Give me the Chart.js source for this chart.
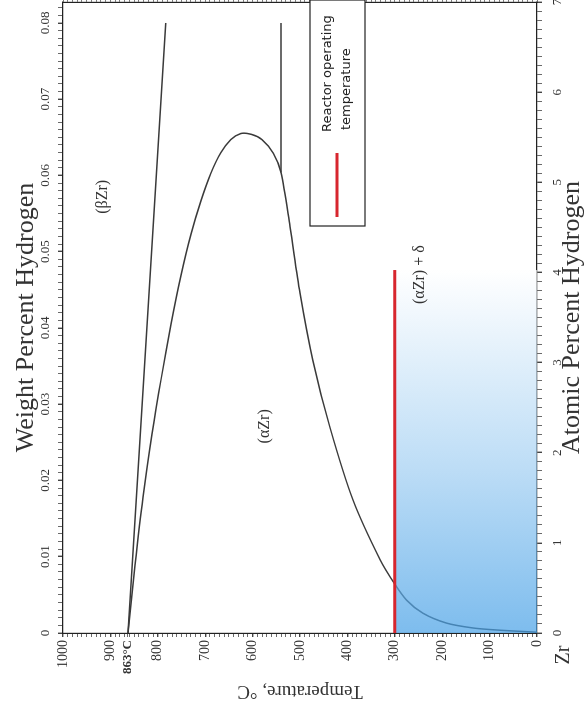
<!DOCTYPE html>
<html>
<head>
<meta charset="utf-8">
<script src="https://cdn.jsdelivr.net/npm/chart.js@4.4.1/dist/chart.umd.min.js"></script>
<style>
	html, body { margin: 0; padding: 0; background: #fff; overflow: hidden; }
	/* the diagram is drawn with temperature upright, then turned a quarter turn */
	#wrap { position: absolute; left: 0; top: 0; width: 720px; height: 588px;
		transform-origin: 0 0; transform: translate(0, 720px) rotate(-90deg); }
</style>
</head>
<body>
<div id="wrap"><canvas id="zrhChart" width="720" height="588"></canvas></div>
<script>
// (βZr) / (αZr)+(βZr) boundary
const betaWt = [0, 0.08];
const betaTemp = [863, 783];

// (αZr) boundary and terminal solid solubility
const solvusWt = [0, 0.0089, 0.0178, 0.0261, 0.0333, 0.0405, 0.0469, 0.0523, 0.0567, 0.0603, 0.0630,
	0.0647, 0.0655, 0.0654, 0.0647, 0.0629, 0.0604,
	0.0533, 0.0446, 0.0358, 0.0270, 0.0174, 0.0096, 0.0064, 0.0043, 0.0026, 0.0013, 0.00066, 0.00039, 0.0001];
const solvusTemp = [863, 848, 831, 812, 793, 772, 751, 730, 709, 688, 667,
	646, 625, 603, 580, 556, 540,
	521, 500, 473, 437, 388, 331, 300, 275, 241, 191, 135, 84, 0];

// eutectoid line
const eutectoidWt = [0.0604, 0.08];
const eutectoidTemp = [540, 540];

// reactor operating temperature
const reactorWt = [0, 0.0476];
const reactorTemp = [300, 300];

const regionNames = ['(βZr)', '(αZr)', '(αZr) + δ'];
const regionWt = [0.0572, 0.0271, 0.0470];
const regionTemp = [916, 574, 247];

const weightMax = 0.08275;
const atomicMax = 7;
const tempMax = 1000;
const markTemp = 863;

const pts = (xs, ys) => xs.map((x, i) => ({ x: x, y: ys[i] }));
const near = (v, step) => Math.abs(v / step - Math.round(v / step)) < 1e-6;
const serif = '"Liberation Serif", "Times New Roman", serif';

const phaseText = {
	id: 'phaseText',
	afterDatasetsDraw(chart) {
		const { ctx, chartArea, scales } = chart;
		ctx.save();
		ctx.fillStyle = '#333';
		ctx.textAlign = 'center';
		ctx.textBaseline = 'middle';
		ctx.font = '16px ' + serif;
		regionNames.forEach((t, i) => {
			ctx.fillText(t, scales.x.getPixelForValue(regionWt[i]), scales.y.getPixelForValue(regionTemp[i]));
		});
		ctx.font = '20px ' + serif;
		ctx.fillText('Zr', chartArea.left - 22, chartArea.bottom + 27);

		// legend box
		const bx = chartArea.right - 224, by = chartArea.top + 247;
		ctx.fillStyle = '#fff';
		ctx.fillRect(bx, by, 226, 55);
		ctx.strokeStyle = '#222';
		ctx.lineWidth = 1.2;
		ctx.strokeRect(bx, by, 226, 55);
		ctx.strokeStyle = '#d7262e';
		ctx.lineWidth = 3;
		ctx.beginPath();
		ctx.moveTo(bx + 9, by + 27);
		ctx.lineTo(bx + 73, by + 27);
		ctx.stroke();
		ctx.fillStyle = '#222';
		ctx.textAlign = 'left';
		ctx.font = '13px "DejaVu Sans", sans-serif';
		ctx.fillText('Reactor operating', bx + 94, by + 18);
		ctx.fillText('temperature', bx + 96, by + 37);
		ctx.restore();
	}
};

function blueFade(context) {
	const { chart } = context;
	const { ctx, chartArea, scales } = chart;
	if (!chartArea) return 'rgba(120,185,235,0.7)';
	const x0 = scales.x.getPixelForValue(0);
	const x1 = scales.x.getPixelForValue(reactorWt[1]);
	const g = ctx.createLinearGradient(x0, 0, x1, 0);
	g.addColorStop(0, 'rgba(70,160,230,0.7)');
	g.addColorStop(0.45, 'rgba(160,206,242,0.7)');
	g.addColorStop(1, 'rgba(255,255,255,0.7)');
	return g;
}

const lineStyle = { borderColor: '#3a3a3a', borderWidth: 1.5, pointRadius: 0, showLine: true, fill: false };

new Chart(document.getElementById('zrhChart'), {
	type: 'scatter',
	data: {
		datasets: [
			{ label: 'Reactor operating temperature', data: pts(reactorWt, reactorTemp),
				borderColor: '#d7262e', borderWidth: 3, pointRadius: 0, showLine: true, fill: false, order: 0 },
			{ label: 'fill', data: pts(reactorWt, reactorTemp),
				borderWidth: 0, pointRadius: 0, showLine: true, fill: 'origin', backgroundColor: blueFade, order: 1 },
			{ label: 'beta', data: pts(betaWt, betaTemp), ...lineStyle, order: 2 },
			{ label: 'solvus', data: pts(solvusWt, solvusTemp), ...lineStyle, tension: 0.3, order: 2 },
			{ label: 'eutectoid', data: pts(eutectoidWt, eutectoidTemp), ...lineStyle, order: 2 }
		]
	},
	options: {
		responsive: false,
		animation: false,
		layout: { padding: 0 },
		scales: {
			x: {
				type: 'linear', position: 'top', min: 0, max: weightMax,
				ticks: {
					stepSize: 0.001, autoSkip: false, maxRotation: 0, minRotation: 0, includeBounds: false,
					padding: 5, color: '#333', font: { family: serif, size: 13 },
					callback: v => near(v, 0.01) ? (v === 0 ? '0' : v.toFixed(2)) : ''
				},
				grid: { drawOnChartArea: false, tickLength: 5, color: '#444',
					lineWidth: c => near(c.tick.value, 0.01) ? 1.4 : 0.8 },
				border: { color: '#222', width: 1.2 },
				title: { display: true, text: 'Weight Percent Hydrogen', color: '#333',
					font: { family: serif, size: 26 }, padding: { top: 11, bottom: 0 } },
				afterFit: s => { s.height = 63; s.paddingLeft = 0; s.paddingRight = 0; }
			},
			x2: {
				type: 'linear', position: 'bottom', min: 0, max: atomicMax,
				ticks: {
					stepSize: 0.1, autoSkip: false, maxRotation: 0, minRotation: 0, includeBounds: false,
					padding: 8, color: '#333', font: { family: serif, size: 13 },
					callback: v => near(v, 1) ? Math.round(v) : ''
				},
				grid: { drawOnChartArea: false, tickLength: 5, color: '#444',
					lineWidth: c => near(c.tick.value, 1) ? 1.4 : 0.8 },
				border: { color: '#222', width: 1.2 },
				title: { display: true, text: 'Atomic Percent Hydrogen', color: '#333',
					font: { family: serif, size: 26 }, padding: { top: 0, bottom: 0 } },
				afterFit: s => { s.height = 51; s.paddingLeft = 0; s.paddingRight = 0; }
			},
			y: {
				type: 'linear', position: 'left', min: 0, max: tempMax,
				afterBuildTicks: s => {
					s.ticks.push({ value: markTemp });
					s.ticks.sort((a, b) => a.value - b.value);
				},
				ticks: {
					stepSize: 10, autoSkip: false, padding: 3, color: '#333',
					font: c => (c.tick && c.tick.value === markTemp)
						? { family: serif, size: 13, weight: 'bold' } : { family: serif, size: 14 },
					callback: v => v === markTemp ? markTemp + '°C' : (near(v, 100) ? v : '')
				},
				grid: { drawOnChartArea: false, tickLength: 4, color: '#444',
					lineWidth: c => near(c.tick.value, 100) ? 1.4 : 0.8 },
				border: { color: '#222', width: 1.2 },
				title: { display: true, text: 'Temperature, °C', color: '#333',
					font: { family: serif, size: 19 }, padding: { top: 18, bottom: 0 } },
				afterFit: s => { s.width = 87; }
			},
			y2: {
				type: 'linear', position: 'right', min: 0, max: tempMax,
				ticks: { display: false, stepSize: 10, autoSkip: false },
				grid: { drawOnChartArea: false, tickLength: 2, color: '#555', lineWidth: 0.8 },
				border: { color: '#222', width: 1.2 },
				afterFit: s => { s.width = 2; }
			}
		},
		plugins: {
			legend: { display: false },
			tooltip: { enabled: false }
		}
	},
	plugins: [phaseText]
});
</script>
</body>
</html>
